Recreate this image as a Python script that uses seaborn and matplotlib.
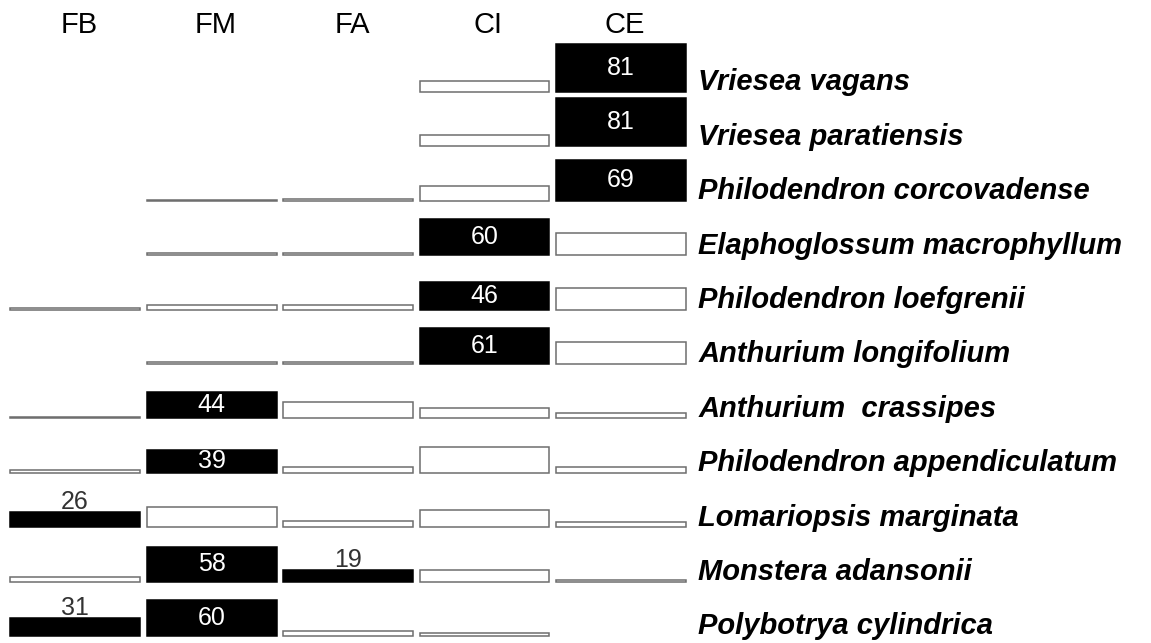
import pandas as pd
import matplotlib.pyplot as plt
import seaborn as sns

groups = ['FB', 'FM', 'FA', 'CI', 'CE']
species = ['Vriesea vagans', 'Vriesea paratiensis', 'Philodendron corcovadense',
           'Elaphoglossum macrophyllum', 'Philodendron loefgrenii', 'Anthurium longifolium',
           'Anthurium  crassipes', 'Philodendron appendiculatum', 'Lomariopsis marginata',
           'Monstera adansonii', 'Polybotrya cylindrica']

fb = [0, 0, 0, 0, 3, 0, 2, 4, 26, 7, 31]
fm = [0, 0, 2, 4, 8, 3, 44, 39, 34, 58, 60]
fa = [0, 0, 3, 4, 8, 3, 28, 10, 10, 19, 9]
ci = [18, 19, 25, 60, 46, 61, 18, 43, 29, 20, 5]
ce = [81, 81, 69, 37, 37, 37, 9, 10, 9, 2, 0]

# significant indicator values (black bars with labels)
indicators = [('Vriesea vagans', 'CE'), ('Vriesea paratiensis', 'CE'),
              ('Philodendron corcovadense', 'CE'), ('Elaphoglossum macrophyllum', 'CI'),
              ('Philodendron loefgrenii', 'CI'), ('Anthurium longifolium', 'CI'),
              ('Anthurium  crassipes', 'FM'), ('Philodendron appendiculatum', 'FM'),
              ('Lomariopsis marginata', 'FB'), ('Monstera adansonii', 'FM'),
              ('Monstera adansonii', 'FA'), ('Polybotrya cylindrica', 'FB'),
              ('Polybotrya cylindrica', 'FM')]


def build_frame():
    wide = pd.DataFrame({'FB': fb, 'FM': fm, 'FA': fa, 'CI': ci, 'CE': ce}, index=species)
    df = wide.reset_index().melt(id_vars='index', var_name='group', value_name='value')
    df = df.rename(columns={'index': 'species'})
    df['indicator'] = [(s, g) in indicators for s, g in zip(df['species'], df['group'])]
    return df[df['value'] > 0]


def draw_bar(data, **kws):
    ax = plt.gca()
    sig = bool(data['indicator'].iloc[0])
    sns.barplot(data=data, y='value', width=1, errorbar=None, saturation=1,
                color='black' if sig else 'white',
                edgecolor='black' if sig else '#6e6e6e', linewidth=1.1, ax=ax)


def main():
    sns.set_style('white')
    plt.rcParams['font.family'] = ['Liberation Sans', 'DejaVu Sans']
    plt.rcParams['text.color'] = 'black'

    df = build_frame()
    g = sns.FacetGrid(df, row='species', col='group', row_order=species, col_order=groups,
                      sharex=False, sharey=True, height=0.6, aspect=2.5, despine=False)
    g.map_dataframe(draw_bar)
    g.set_titles(template='')
    g.figure.set_size_inches(11.51, 6.43)
    g.figure.subplots_adjust(left=0.0087, right=0.596, top=0.9347, bottom=0.0109,
                             wspace=0.05, hspace=0.088)

    for (sp, grp), ax in g.axes_dict.items():
        ax.set_xlim(-0.5, 0.5)
        ax.set_ylim(0, 84)
        ax.set_axis_off()
        for p in ax.patches:
            p.set_clip_on(False)
        sub = df[(df['species'] == sp) & (df['group'] == grp)]
        if len(sub) and sub['indicator'].iloc[0]:
            v = int(sub['value'].iloc[0])
            if v >= 35:
                ax.text(0, v / 2, str(v), ha='center', va='center', color='white', fontsize=18)
            else:
                ax.text(0, v + 5, str(v), ha='center', va='baseline', color='#333333', fontsize=18)

    for j, grp in enumerate(groups):
        ax = g.axes[0, j]
        ax.text(0.53, 1.18, grp, transform=ax.transAxes, ha='center', va='baseline', fontsize=21)

    for i, sp in enumerate(species):
        ax = g.axes[i, -1]
        ax.text(1.095, 0.03, sp, transform=ax.transAxes, ha='left', va='baseline',
                fontsize=21, fontweight='bold', fontstyle='italic')

    g.figure.savefig('out.png', dpi=100)


if __name__ == '__main__':
    main()
